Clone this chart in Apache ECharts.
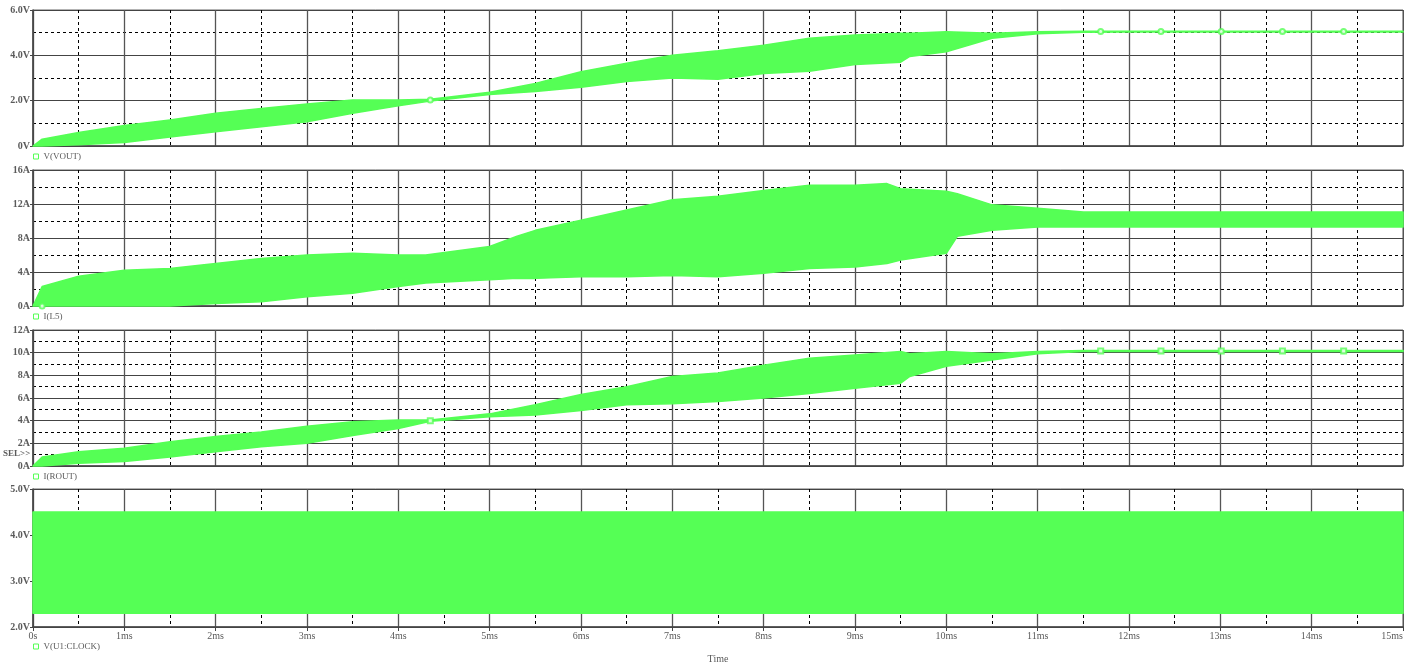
<!DOCTYPE html>
<html>
<head>
<meta charset="utf-8">
<script src="https://cdn.jsdelivr.net/npm/echarts@6/dist/echarts.min.js"></script>
<style>
html,body{margin:0;padding:0;background:#fff;}
#c{width:1404px;height:666px;}
</style>
</head>
<body>
<div id="c"></div>
<script>
// ---------- data ----------
const xTicks = ['0s','1ms','2ms','3ms','4ms','5ms','6ms','7ms','8ms','9ms','10ms','11ms','12ms','13ms','14ms','15ms'];

// V(VOUT) envelope (ms, V)
const tVout  = [0, 0.1, 0.5, 1, 1.5, 2, 2.5, 3, 3.5, 4, 4.35, 5, 5.5, 6, 6.5, 7, 7.5, 8, 8.5, 9, 9.5, 9.6, 10, 10.5, 11, 11.5, 12, 13, 14, 15];
const voutLo = [0, 0, 0.05, 0.15, 0.4, 0.63, 0.85, 1.07, 1.44, 1.78, 1.98, 2.27, 2.4, 2.59, 2.85, 3.0, 2.95, 3.2, 3.3, 3.6, 3.7, 3.95, 4.16, 4.75, 4.95, 5.02, 5.03, 5.03, 5.03, 5.03];
const voutHi = [0, 0.3, 0.6, 0.9, 1.15, 1.44, 1.65, 1.85, 2.03, 2.03, 2.06, 2.37, 2.76, 3.28, 3.65, 4.0, 4.2, 4.45, 4.75, 4.9, 4.97, 4.97, 5.04, 4.97, 5.04, 5.06, 5.06, 5.06, 5.06, 5.06];

// I(L5) envelope (ms, A)
const tL5  = [0, 0.1, 0.5, 1, 1.5, 2, 2.5, 3, 3.5, 4, 4.3, 5, 5.3, 5.5, 6, 6.5, 7, 7.5, 8, 8.5, 9, 9.35, 9.5, 10, 10.12, 10.5, 11, 11.5, 15];
const l5Lo = [0, 0, 0, 0, 0, 0.3, 0.5, 1.1, 1.5, 2.3, 2.7, 3.1, 3.25, 3.25, 3.45, 3.45, 3.6, 3.45, 3.85, 4.4, 4.6, 5.0, 5.4, 6.2, 8.2, 8.9, 9.3, 9.3, 9.3];
const l5Hi = [0, 2.3, 3.5, 4.2, 4.4, 5.0, 5.6, 6.0, 6.2, 6.0, 6.0, 7.0, 8.2, 8.9, 10.1, 11.3, 12.5, 12.9, 13.6, 14.2, 14.2, 14.4, 13.8, 13.5, 13.2, 11.9, 11.5, 11.06, 11.06];

// I(ROUT) envelope (ms, A)
const tRout  = [0, 0.1, 0.5, 1, 1.5, 2, 2.5, 3, 3.5, 4, 4.35, 5, 5.5, 6, 6.5, 7, 7.5, 8, 8.5, 9, 9.5, 9.6, 10, 10.5, 11, 11.5, 15];
const routLo = [0, 0, 0.24, 0.4, 0.8, 1.26, 1.7, 2.0, 2.7, 3.3, 3.95, 4.35, 4.5, 4.9, 5.4, 5.5, 5.7, 6.0, 6.4, 6.85, 7.3, 7.9, 8.8, 9.35, 9.9, 10.1, 10.1];
const routHi = [0, 0.8, 1.26, 1.56, 2.15, 2.6, 3.0, 3.5, 3.9, 4.06, 4.05, 4.6, 5.4, 6.3, 7.0, 7.9, 8.2, 8.9, 9.5, 9.8, 10.1, 9.9, 10.1, 9.9, 10.1, 10.2, 10.2];

// V(U1:CLOCK) envelope (ms, V)
const tClk  = [0, 15];
const clkLo = [2.3, 2.3];
const clkHi = [4.5, 4.5];

// trace markers
const mkTVout = [4.35, 11.69, 12.35, 13.01, 13.68, 14.35];
const mkVout  = [2.03, 5.05, 5.05, 5.05, 5.05, 5.05];
const mkTL5   = [0.1];
const mkL5    = [0];
const mkTRout = [4.35, 11.69, 12.35, 13.01, 13.68, 14.35];
const mkRout  = [4.0, 10.15, 10.15, 10.15, 10.15, 10.15];

const yTicksVout = ['0V','2.0V','4.0V','6.0V'];
const yTicksL5   = ['0A','4A','8A','12A','16A'];
const yTicksRout = ['0A','2A','4A','6A','8A','10A','12A'];
const yTicksClk  = ['2.0V','3.0V','4.0V','5.0V'];

const names = ['V(VOUT)','I(L5)','I(ROUT)','V(U1:CLOCK)'];

// ---------- layout / style ----------
const GREEN = '#55ff55';
const LBL = '#5a5a5a';
const FONT = 'Liberation Serif';
const panels = [
  {top:10,  h:136, min:0, max:6,  iv:2, ticks:yTicksVout, t:tVout, lo:voutLo, hi:voutHi, mt:mkTVout, mv:mkVout, sym:'emptyCircle'},
  {top:170, h:136, min:0, max:16, iv:4, ticks:yTicksL5,   t:tL5,   lo:l5Lo,   hi:l5Hi,   mt:mkTL5,   mv:mkL5,   sym:'emptyCircle'},
  {top:330, h:136, min:0, max:12, iv:2, ticks:yTicksRout, t:tRout, lo:routLo, hi:routHi, mt:mkTRout, mv:mkRout, sym:'emptyRect'},
  {top:489, h:138, min:2, max:5,  iv:1, ticks:yTicksClk,  t:tClk,  lo:clkLo,  hi:clkHi,  mt:[],      mv:[],     sym:'emptyCircle'}
];
const legendTops = [152, 312, 472, 642];

const grid = [], xAxis = [], yAxis = [], series = [], legend = [];
panels.forEach((p, i) => {
  grid.push({left:33, right:1, top:p.top, height:p.h, show:true, borderColor:'#666', borderWidth:1,
    containLabel:false, outerBoundsMode:'none'});
  const last = i === panels.length - 1;
  xAxis.push({
    type:'value', gridIndex:i, min:0, max:15, interval:1,
    axisLine:{show:true, onZero:false, lineStyle:{color:'#444', width:1.5}},
    axisTick:{show:last, length:4, lineStyle:{color:'#444'}},
    axisLabel:{show:last, margin:4, color:LBL, fontFamily:FONT, fontSize:10, alignMaxLabel:'right',
      formatter:(v)=>xTicks[Math.round(v)]},
    splitLine:{show:true, lineStyle:{color:'#555', width:1.3}},
    minorTick:{show:true, splitNumber:2, length:0},
    minorSplitLine:{show:true, lineStyle:{color:'#000', width:1, type:[3,3]}},
    name: last ? 'Time' : '', nameLocation:'middle', nameGap:27,
    nameTextStyle:{color:LBL, fontFamily:FONT, fontSize:10}
  });
  yAxis.push({
    type:'value', gridIndex:i, min:p.min, max:p.max, interval:p.iv,
    axisLine:{show:true, lineStyle:{color:'#444', width:1.5}},
    axisTick:{show:true, length:3, lineStyle:{color:'#444'}},
    axisLabel:{margin:3, color:LBL, fontFamily:FONT, fontSize:10, fontWeight:'bold',
      formatter:(v)=>p.ticks[Math.round((v - p.min)/p.iv)]},
    splitLine:{show:true, lineStyle:{color:'#444', width:1.2}},
    minorTick:{show:true, splitNumber:2, length:0},
    minorSplitLine:{show:true, lineStyle:{color:'#000', width:1, type:[3,3]}}
  });
  // envelope band: polygon through the upper edge, back along the lower edge
  series.push({
    name: names[i], type:'custom', xAxisIndex:i, yAxisIndex:i,
    data: [[p.t[0], p.lo[0]]], itemStyle:{color:GREEN}, z:3, silent:true,
    renderItem: (params, api) => {
      const pts = [];
      for (let k = 0; k < p.t.length; k++) pts.push(api.coord([p.t[k], p.hi[k]]));
      for (let k = p.t.length - 1; k >= 0; k--) pts.push(api.coord([p.t[k], p.lo[k]]));
      return {type:'polygon', shape:{points:pts},
        style:{fill:GREEN, stroke:GREEN, lineWidth:1.5, lineJoin:'round'}};
    }
  });
  if (p.mt.length) {
    series.push({
      name: names[i] + ' mk', type:'scatter', xAxisIndex:i, yAxisIndex:i,
      data: p.mt.map((t, k) => [t, p.mv[k]]), symbol:p.sym, symbolSize:5,
      itemStyle:{color:GREEN, borderColor:GREEN, borderWidth:1}, z:4
    });
  }
  legend.push({
    left:33, top:legendTops[i], padding:0, itemWidth:5, itemHeight:5, itemGap:5, selectedMode:false,
    data:[{name:names[i], icon:'rect', itemStyle:{color:'transparent', borderColor:GREEN, borderWidth:1}}],
    textStyle:{color:LBL, fontFamily:FONT, fontSize:9, padding:[0,0,0,0]}
  });
});

const chart = echarts.init(document.getElementById('c'));
chart.setOption({animation:false, grid, xAxis, yAxis, series, legend});

// SEL>> label next to the 1A line of the I(ROUT) panel
const ySel = chart.convertToPixel({yAxisIndex:2}, 1);
chart.setOption({graphic:[{type:'text', left:3, top:ySel - 5,
  style:{text:'SEL>>', fill:LBL, font:'bold 9px "Liberation Serif"'}}]});
</script>
</body>
</html>
